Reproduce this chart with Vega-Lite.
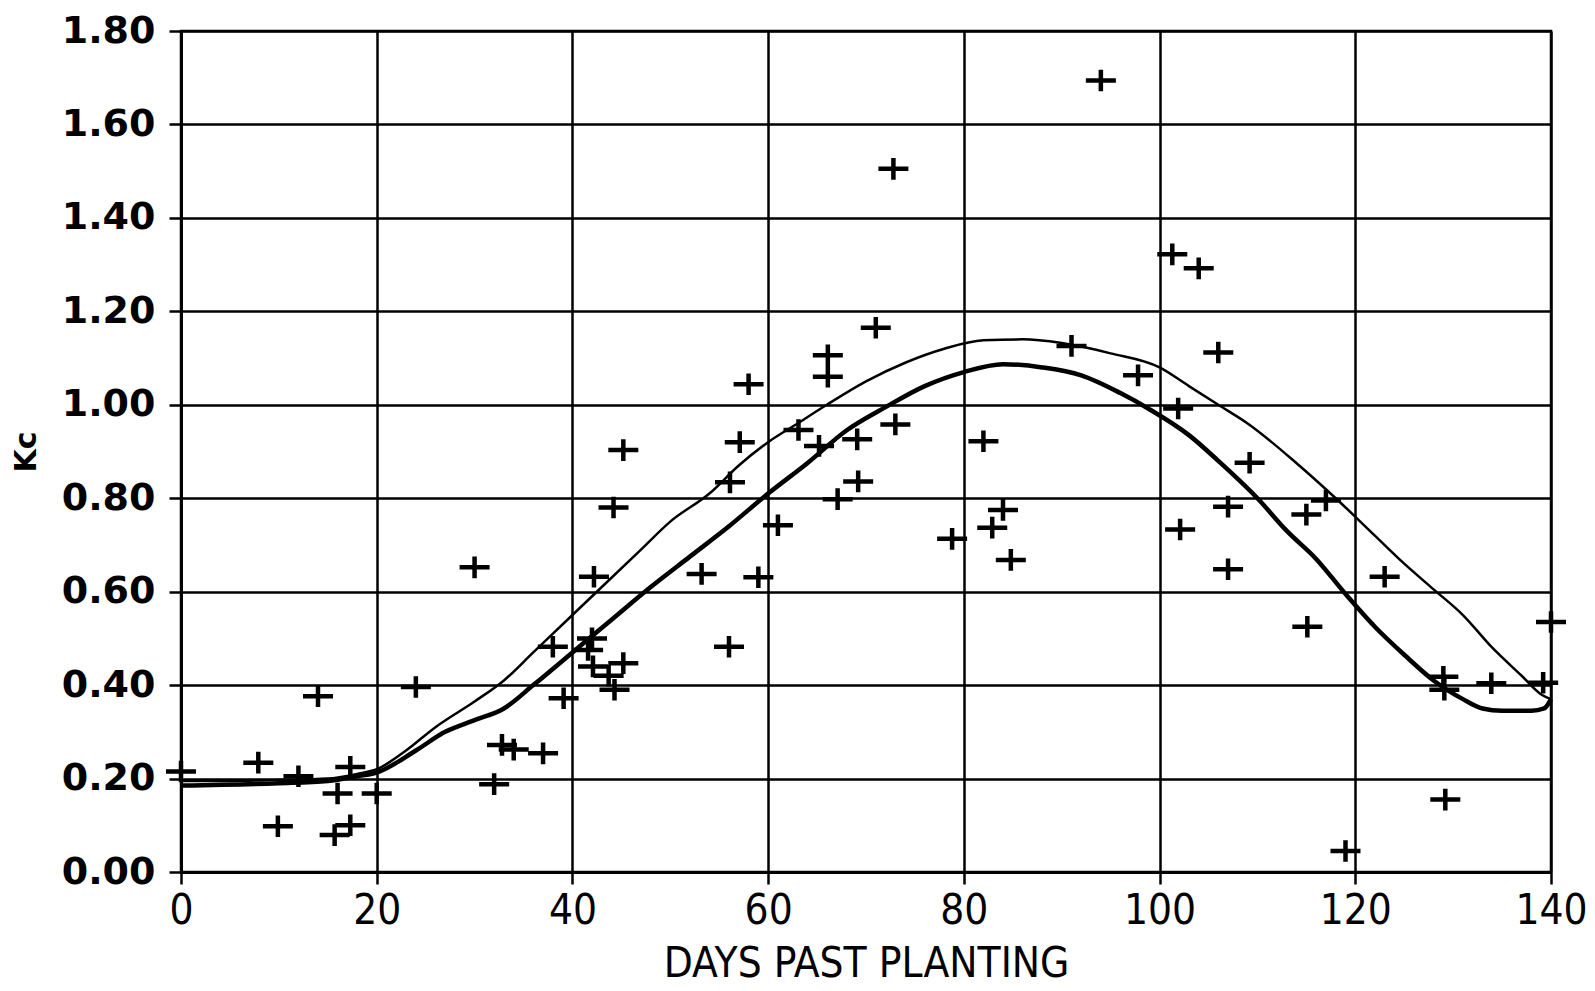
{
  "$schema": "https://vega.github.io/schema/vega-lite/v6.json",
  "autosize": {"type": "none"},
  "padding": {"left": 181, "top": 31, "right": 44, "bottom": 119},
  "width": 1370,
  "height": 841,
  "background": "white",
  "config": {
    "view": {"stroke": "black", "strokeWidth": 2.5},
    "axis": {
      "gridColor": "black", "gridWidth": 2.5, "gridOpacity": 1,
      "domainColor": "black", "domainWidth": 3,
      "tickColor": "black", "tickWidth": 2.5, "tickSize": 12,
      "labelColor": "black", "titleColor": "black"
    }
  },
  "datasets": {
    "points": [
      {"day": 0, "kc": 0.215}, {"day": 7.9, "kc": 0.234}, {"day": 9.9, "kc": 0.098}, {"day": 12, "kc": 0.205},
      {"day": 14, "kc": 0.376}, {"day": 16, "kc": 0.168}, {"day": 15.7, "kc": 0.079}, {"day": 17.3, "kc": 0.1},
      {"day": 17.3, "kc": 0.225}, {"day": 20, "kc": 0.168}, {"day": 24, "kc": 0.396}, {"day": 30, "kc": 0.652},
      {"day": 32, "kc": 0.188}, {"day": 32.8, "kc": 0.272}, {"day": 34, "kc": 0.262}, {"day": 37, "kc": 0.254},
      {"day": 38, "kc": 0.482}, {"day": 39.1, "kc": 0.372}, {"day": 41.6, "kc": 0.475}, {"day": 42, "kc": 0.5},
      {"day": 42.2, "kc": 0.632}, {"day": 42.1, "kc": 0.44}, {"day": 43.7, "kc": 0.42}, {"day": 44.3, "kc": 0.39},
      {"day": 45.2, "kc": 0.447}, {"day": 44.2, "kc": 0.78}, {"day": 45.2, "kc": 0.903}, {"day": 53.2, "kc": 0.638},
      {"day": 56, "kc": 0.482}, {"day": 56.1, "kc": 0.834}, {"day": 57.1, "kc": 0.92}, {"day": 58, "kc": 1.044},
      {"day": 59, "kc": 0.631}, {"day": 61, "kc": 0.742}, {"day": 63.1, "kc": 0.946}, {"day": 65.2, "kc": 0.912},
      {"day": 66.1, "kc": 1.106}, {"day": 66.1, "kc": 1.06}, {"day": 67.1, "kc": 0.798}, {"day": 69.1, "kc": 0.926},
      {"day": 69.2, "kc": 0.836}, {"day": 71, "kc": 1.165}, {"day": 72.8, "kc": 1.505}, {"day": 73, "kc": 0.958},
      {"day": 78.8, "kc": 0.713}, {"day": 82, "kc": 0.922}, {"day": 82.9, "kc": 0.737}, {"day": 84, "kc": 0.775},
      {"day": 84.8, "kc": 0.668}, {"day": 91, "kc": 1.126}, {"day": 94, "kc": 1.694}, {"day": 97.8, "kc": 1.063},
      {"day": 101.3, "kc": 1.322}, {"day": 101.9, "kc": 0.992}, {"day": 102.1, "kc": 0.733}, {"day": 104, "kc": 1.292},
      {"day": 106, "kc": 1.112}, {"day": 107, "kc": 0.782}, {"day": 107, "kc": 0.648}, {"day": 109.2, "kc": 0.876},
      {"day": 115.1, "kc": 0.525}, {"day": 115, "kc": 0.765}, {"day": 117, "kc": 0.795}, {"day": 119, "kc": 0.045},
      {"day": 123, "kc": 0.632}, {"day": 129, "kc": 0.418}, {"day": 129.1, "kc": 0.39}, {"day": 129.2, "kc": 0.155},
      {"day": 133.9, "kc": 0.404}, {"day": 139.2, "kc": 0.405}, {"day": 140, "kc": 0.535}
    ],
    "curves": [
      {"curve": "upper", "day": 0, "kc": 0.195}, {"curve": "upper", "day": 5, "kc": 0.195}, {"curve": "upper", "day": 10, "kc": 0.197},
      {"curve": "upper", "day": 15, "kc": 0.2}, {"curve": "upper", "day": 18, "kc": 0.21}, {"curve": "upper", "day": 20, "kc": 0.22},
      {"curve": "upper", "day": 23, "kc": 0.26}, {"curve": "upper", "day": 26, "kc": 0.31}, {"curve": "upper", "day": 30, "kc": 0.365},
      {"curve": "upper", "day": 33, "kc": 0.41}, {"curve": "upper", "day": 36, "kc": 0.47}, {"curve": "upper", "day": 40, "kc": 0.55},
      {"curve": "upper", "day": 43, "kc": 0.61}, {"curve": "upper", "day": 47, "kc": 0.69}, {"curve": "upper", "day": 50, "kc": 0.75},
      {"curve": "upper", "day": 54, "kc": 0.81}, {"curve": "upper", "day": 57, "kc": 0.87}, {"curve": "upper", "day": 60, "kc": 0.92},
      {"curve": "upper", "day": 63, "kc": 0.96}, {"curve": "upper", "day": 66, "kc": 1.0}, {"curve": "upper", "day": 70, "kc": 1.05},
      {"curve": "upper", "day": 74, "kc": 1.09}, {"curve": "upper", "day": 78, "kc": 1.12}, {"curve": "upper", "day": 82, "kc": 1.138},
      {"curve": "upper", "day": 86, "kc": 1.14}, {"curve": "upper", "day": 90, "kc": 1.132}, {"curve": "upper", "day": 95, "kc": 1.11},
      {"curve": "upper", "day": 100, "kc": 1.08}, {"curve": "upper", "day": 103, "kc": 1.04}, {"curve": "upper", "day": 106, "kc": 1.0},
      {"curve": "upper", "day": 109, "kc": 0.96}, {"curve": "upper", "day": 114, "kc": 0.875}, {"curve": "upper", "day": 118, "kc": 0.8},
      {"curve": "upper", "day": 122, "kc": 0.72}, {"curve": "upper", "day": 125, "kc": 0.66}, {"curve": "upper", "day": 128, "kc": 0.605},
      {"curve": "upper", "day": 131, "kc": 0.55}, {"curve": "upper", "day": 134, "kc": 0.48}, {"curve": "upper", "day": 137, "kc": 0.42},
      {"curve": "upper", "day": 139, "kc": 0.38}, {"curve": "upper", "day": 140, "kc": 0.37},
      {"curve": "lower", "day": 0, "kc": 0.185}, {"curve": "lower", "day": 10, "kc": 0.19}, {"curve": "lower", "day": 15, "kc": 0.195},
      {"curve": "lower", "day": 18, "kc": 0.205}, {"curve": "lower", "day": 20, "kc": 0.213}, {"curve": "lower", "day": 24, "kc": 0.26},
      {"curve": "lower", "day": 27, "kc": 0.3}, {"curve": "lower", "day": 30, "kc": 0.325}, {"curve": "lower", "day": 33, "kc": 0.35},
      {"curve": "lower", "day": 36, "kc": 0.4}, {"curve": "lower", "day": 40, "kc": 0.47}, {"curve": "lower", "day": 44, "kc": 0.54},
      {"curve": "lower", "day": 48, "kc": 0.61}, {"curve": "lower", "day": 52, "kc": 0.675}, {"curve": "lower", "day": 56, "kc": 0.74},
      {"curve": "lower", "day": 60, "kc": 0.81}, {"curve": "lower", "day": 64, "kc": 0.875}, {"curve": "lower", "day": 68, "kc": 0.945},
      {"curve": "lower", "day": 72, "kc": 0.995}, {"curve": "lower", "day": 76, "kc": 1.04}, {"curve": "lower", "day": 80, "kc": 1.07},
      {"curve": "lower", "day": 84, "kc": 1.087}, {"curve": "lower", "day": 88, "kc": 1.08}, {"curve": "lower", "day": 92, "kc": 1.063},
      {"curve": "lower", "day": 96, "kc": 1.025}, {"curve": "lower", "day": 99, "kc": 0.99}, {"curve": "lower", "day": 103, "kc": 0.935},
      {"curve": "lower", "day": 106, "kc": 0.88}, {"curve": "lower", "day": 110, "kc": 0.8}, {"curve": "lower", "day": 113, "kc": 0.73},
      {"curve": "lower", "day": 116, "kc": 0.67}, {"curve": "lower", "day": 119, "kc": 0.595}, {"curve": "lower", "day": 122, "kc": 0.525},
      {"curve": "lower", "day": 125, "kc": 0.465}, {"curve": "lower", "day": 128, "kc": 0.41}, {"curve": "lower", "day": 131, "kc": 0.37},
      {"curve": "lower", "day": 133, "kc": 0.35}, {"curve": "lower", "day": 135, "kc": 0.345}, {"curve": "lower", "day": 138, "kc": 0.345},
      {"curve": "lower", "day": 139.3, "kc": 0.35}, {"curve": "lower", "day": 140, "kc": 0.37}
    ]
  },
  "layer": [
    {
      "data": {"name": "curves"},
      "mark": {"type": "line", "color": "black", "interpolate": "monotone"},
      "encoding": {
        "x": {"field": "day", "type": "quantitative"},
        "y": {"field": "kc", "type": "quantitative"},
        "detail": {"field": "curve", "type": "nominal"},
        "strokeWidth": {"field": "curve", "type": "nominal", "scale": {"domain": ["upper", "lower"], "range": [2.5, 4.5]}, "legend": null}
      }
    },
    {
      "data": {"name": "points"},
      "mark": {"type": "point", "shape": "M-1,0H1M0,-0.72V0.72", "filled": false, "stroke": "black", "strokeWidth": 4.5, "size": 900, "opacity": 1},
      "encoding": {
        "x": {
          "field": "day", "type": "quantitative",
          "scale": {"domain": [0, 140], "nice": false, "zero": false},
          "axis": {
            "values": [0, 20, 40, 60, 80, 100, 120, 140],
            "title": "DAYS PAST PLANTING",
            "labelFont": "DejaVu Sans Condensed", "labelFontSize": 42, "labelFontWeight": "normal",
            "labelPadding": 6, "labelFlush": false,
            "titleFont": "DejaVu Sans Condensed", "titleFontSize": 42, "titleFontWeight": "normal",
            "titlePadding": 12
          }
        },
        "y": {
          "field": "kc", "type": "quantitative",
          "scale": {"domain": [0, 1.8], "nice": false, "zero": false},
          "axis": {
            "values": [0, 0.2, 0.4, 0.6, 0.8, 1.0, 1.2, 1.4, 1.6, 1.8],
            "format": ".2f",
            "title": "Kc",
            "labelFont": "DejaVu Sans", "labelFontSize": 38, "labelFontWeight": "bold",
            "labelPadding": 14, "labelFlush": false,
            "titleFont": "DejaVu Sans", "titleFontSize": 30, "titleFontWeight": "bold",
            "titlePadding": 20
          }
        }
      }
    }
  ]
}
